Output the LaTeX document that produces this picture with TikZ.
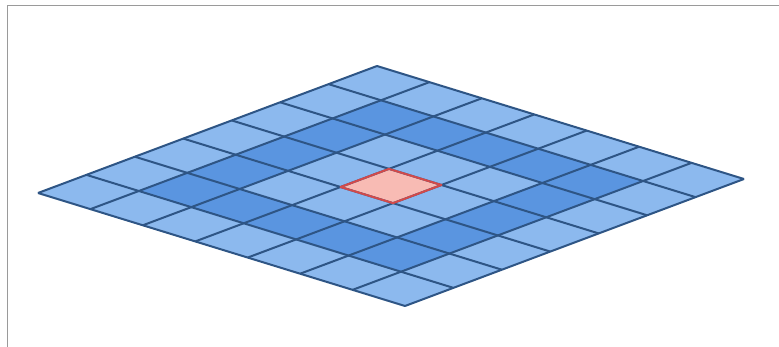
\documentclass[tikz,border=0pt]{standalone}
\usetikzlibrary{calc}
\definecolor{lightcell}{HTML}{8CB9EE}
\definecolor{darkcell}{HTML}{5A95E0}
\definecolor{gridline}{HTML}{2E5585}
\definecolor{pinkcell}{HTML}{F8BBB4}
\definecolor{pinkline}{HTML}{D24A4A}
\definecolor{frameline}{HTML}{9A9A9A}
\begin{document}
\begin{tikzpicture}[x=1pt,y=-1pt,
  cellline/.style={draw=gridline,line width=2pt,line join=round},
  frame/.style={draw=frameline,line width=1.4pt}]
\useasboundingbox (0,0) rectangle (779,347);
\fill[white] (0,0) rectangle (779,347);
\draw[frame] (7.5,347) -- (7.5,5.5) -- (779,5.5);
\coordinate (L) at (38,193);
\coordinate (T) at (377,66);
\coordinate (B) at (405,306);
\foreach \i in {0,...,6}{
  \foreach \j in {0,...,6}{
    \pgfmathtruncatemacro{\di}{abs(\i-3)}
    \pgfmathtruncatemacro{\dj}{abs(\j-3)}
    \pgfmathtruncatemacro{\d}{max(\di,\dj)}
    \ifnum\d=2 \def\cc{darkcell}\else\def\cc{lightcell}\fi
    \ifnum\d=0 \def\cc{pinkcell}\fi
    \fill[\cc] ($(L)!{\i/7}!(T) + (L)!{\j/7}!(B) - (L)$) coordinate (c\i\j)
      -- ($(L)!{(\i+1)/7}!(T) + (L)!{\j/7}!(B) - (L)$)
      -- ($(L)!{(\i+1)/7}!(T) + (L)!{(\j+1)/7}!(B) - (L)$)
      -- ($(L)!{\i/7}!(T) + (L)!{(\j+1)/7}!(B) - (L)$) -- cycle;
  }
}
\foreach \k in {0,...,7}{
  \draw[cellline] ($(L)!{\k/7}!(T)$) -- ($(L)!{\k/7}!(T) + (B) - (L)$);
  \draw[cellline] ($(L)!{\k/7}!(B)$) -- ($(L)!{\k/7}!(B) + (T) - (L)$);
}
\draw[draw=pinkline,line width=2pt,line join=round]
  ($(L)!{3/7}!(T) + (L)!{3/7}!(B) - (L)$) coordinate (p1)
  -- ($(L)!{4/7}!(T) + (L)!{3/7}!(B) - (L)$) coordinate (p2)
  -- ($(L)!{4/7}!(T) + (L)!{4/7}!(B) - (L)$) coordinate (p3)
  -- ($(L)!{3/7}!(T) + (L)!{4/7}!(B) - (L)$) coordinate (p4) -- cycle;
\end{tikzpicture}
\end{document}
